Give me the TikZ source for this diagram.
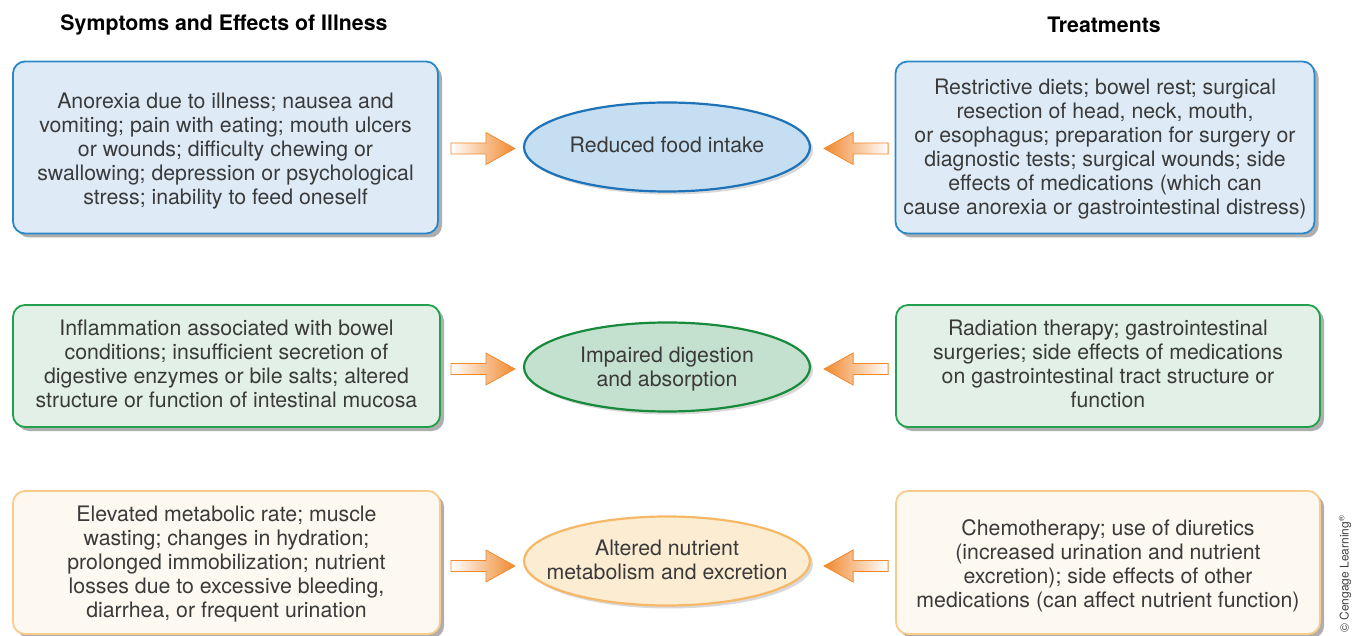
\documentclass[tikz,border=0pt]{standalone}
\usepackage{fontspec}
\setmainfont{TeX Gyre Heros}
\usetikzlibrary{shadows,calc,shapes.geometric}
\definecolor{txt}{HTML}{3A3A3A}
\definecolor{bluefill}{HTML}{DEEBF7}
\definecolor{blueline}{HTML}{2A88C9}
\definecolor{blueell}{HTML}{C5DEF1}
\definecolor{blueelline}{HTML}{1D72B8}
\definecolor{greenfill}{HTML}{E2F0E7}
\definecolor{greenline}{HTML}{22A04E}
\definecolor{greenell}{HTML}{C4E1CF}
\definecolor{greenelline}{HTML}{178A3C}
\definecolor{orfill}{HTML}{FDF8F0}
\definecolor{orline}{HTML}{F9CB8C}
\definecolor{orell}{HTML}{FCECD2}
\definecolor{orelline}{HTML}{F6B866}
\definecolor{arrowor}{HTML}{F0892E}
\tikzset{
  every node/.style={text=txt, font=\fontsize{21.3}{24}\selectfont},
  boxbase/.style={rounded corners=12pt, line width=1.8pt, inner sep=0pt,
    drop shadow={shadow xshift=4pt, shadow yshift=-4pt, opacity=0.45, fill=black!70}},
  bluebox/.style={boxbase, draw=blueline, fill=bluefill},
  greenbox/.style={boxbase, draw=greenline, fill=greenfill},
  orbox/.style={boxbase, draw=orline, fill=orfill},
  boxtext/.style={align=center, inner sep=0pt},
  ellbase/.style={ellipse, line width=2.2pt, inner sep=0pt,
    minimum width=286pt, minimum height=89pt,
    drop shadow={shadow xshift=3pt, shadow yshift=-3pt, opacity=0.25, fill=black!60}},
  head/.style={font=\bfseries\fontsize{21.3}{24}\selectfont, text=black},
  barrow/.style={draw=arrowor, line width=0.8pt, line join=miter},
}
\newcommand{\rarrow}[1]{%
  \shadedraw[barrow, left color=white, right color=arrowor]
    (#1) -- ++(-29,-16) -- ++(0,10.5) -- ++(-35,0) -- ++(0,11) -- ++(35,0) -- ++(0,10.5) -- cycle;}
\newcommand{\larrow}[1]{%
  \shadedraw[barrow, left color=arrowor, right color=white]
    (#1) -- ++(29,-16) -- ++(0,10.5) -- ++(35,0) -- ++(0,11) -- ++(-35,0) -- ++(0,10.5) -- cycle;}
\begin{document}
\begin{tikzpicture}[x=1pt,y=-1pt]
\useasboundingbox (0,0) rectangle (1353,636);

\node[head] (h1) at (224,25) {Symptoms and Effects of Illness};
\node[head] (h2) at (1104,25) {Treatments};

% row 1
\node[bluebox, minimum width=425pt, minimum height=172pt] (b1) at (225.5,147.5) {};
\node[boxtext] (b1t) at ($(b1.center)+(0,4)$)
  {Anorexia due to illness; nausea and\\vomiting; pain with eating; mouth ulcers\\or wounds; difficulty chewing or\\swallowing; depression or psychological\\stress; inability to feed oneself};
\node[bluebox, minimum width=419pt, minimum height=172pt] (b2) at (1105,147.5) {};
\node[boxtext] (b2t) at ($(b2.center)+(0,2)$)
  {Restrictive diets; bowel rest; surgical\\resection of head, neck, mouth,\\or esophagus; preparation for surgery or\\diagnostic tests; surgical wounds; side\\effects of medications (which can\\cause anorexia or gastrointestinal distress)};
\node[ellbase, draw=blueelline, fill=blueell] (e1) at (667,147) {};
\node[boxtext] (e1t) at ($(e1.center)+(0,-2)$) {Reduced food intake};

% row 2
\node[greenbox, minimum width=427pt, minimum height=122pt] (b3) at (226.5,366) {};
\node[boxtext] (b3t) at ($(b3.center)+(0,-2)$)
  {Inflammation associated with bowel\\conditions; insufficient secretion of\\digestive enzymes or bile salts; altered\\structure or function of intestinal mucosa};
\node[greenbox, minimum width=424pt, minimum height=122pt] (b4) at (1108,366) {};
\node[boxtext] (b4t) at ($(b4.center)+(0,-2)$)
  {Radiation therapy; gastrointestinal\\surgeries; side effects of medications\\on gastrointestinal tract structure or\\function};
\node[ellbase, draw=greenelline, fill=greenell] (e2) at (667,367) {};
\node[boxtext] (e2t) at ($(e2.center)+(0,2)$) {Impaired digestion\\and absorption};

% row 3
\node[orbox, minimum width=427pt, minimum height=143pt] (b5) at (226.5,562.5) {};
\node[boxtext] (b5t) at ($(b5.center)+(0,2)$)
  {Elevated metabolic rate; muscle\\wasting; changes in hydration;\\prolonged immobilization; nutrient\\losses due to excessive bleeding,\\diarrhea, or frequent urination};
\node[orbox, minimum width=424pt, minimum height=143pt] (b6) at (1108,562.5) {};
\node[boxtext] (b6t) at ($(b6.center)+(0,3)$)
  {Chemotherapy; use of diuretics\\(increased urination and nutrient\\excretion); side effects of other\\medications (can affect nutrient function)};
\node[ellbase, draw=orelline, fill=orell] (e3) at (667,561) {};
\node[boxtext] (e3t) at ($(e3.center)+(0,-1)$) {Altered nutrient\\metabolism and excretion};

% block arrows
\coordinate (t1) at ($(e1.west)+(-8,1.5)$);
\coordinate (t2) at ($(e1.east)+(13,1.5)$);
\coordinate (t3) at ($(e2.west)+(-8,2)$);
\coordinate (t4) at ($(e2.east)+(13,2)$);
\coordinate (t5) at ($(e3.west)+(-8,5)$);
\coordinate (t6) at ($(e3.east)+(13,5)$);
\rarrow{t1}\larrow{t2}
\rarrow{t3}\larrow{t4}
\rarrow{t5}\larrow{t6}

\node[rotate=90, font=\fontsize{12}{14}\selectfont, text=black!75] (cr) at (1345,574) {\textcopyright\ Cengage Learning\textsuperscript{\textregistered}};
\end{tikzpicture}
\end{document}
